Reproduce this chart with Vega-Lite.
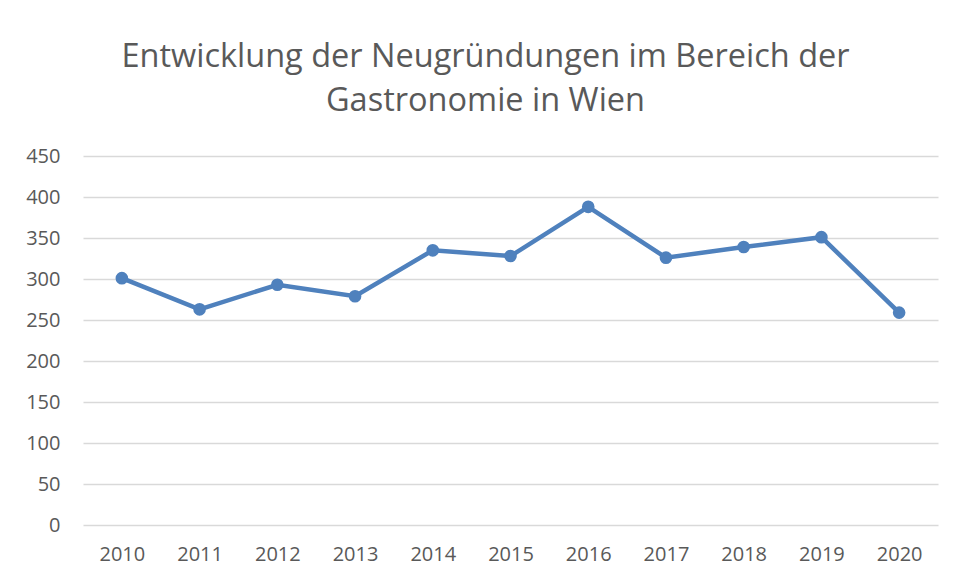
{
  "$schema": "https://vega.github.io/schema/vega-lite/v6.json",
  "width": 855,
  "height": 369,
  "autosize": {"type": "none"},
  "padding": {"left": 83, "top": 156, "right": 16, "bottom": 54},
  "background": "white",
  "title": {
    "text": ["Entwicklung der Neugründungen im Bereich der", "Gastronomie in Wien"],
    "font": "Open Sans",
    "fontSize": 32.5,
    "fontWeight": "normal",
    "color": "#595959",
    "lineHeight": 44,
    "anchor": "middle",
    "dx": -25,
    "offset": 29
  },
  "data": {
    "values": [
      {"year": "2010", "value": 301},
      {"year": "2011", "value": 263},
      {"year": "2012", "value": 293},
      {"year": "2013", "value": 279},
      {"year": "2014", "value": 335},
      {"year": "2015", "value": 328},
      {"year": "2016", "value": 388},
      {"year": "2017", "value": 326},
      {"year": "2018", "value": 339},
      {"year": "2019", "value": 351},
      {"year": "2020", "value": 259}
    ]
  },
  "config": {
    "view": {"stroke": null},
    "axis": {
      "labelFont": "Open Sans",
      "labelFontSize": 20,
      "labelColor": "#595959",
      "domain": false,
      "ticks": false,
      "title": null
    }
  },
  "encoding": {
    "x": {
      "field": "year",
      "type": "ordinal",
      "scale": {"paddingInner": 0, "paddingOuter": 0.5},
      "axis": {"labelAngle": 0, "labelPadding": 19, "grid": false}
    },
    "y": {
      "field": "value",
      "type": "quantitative",
      "scale": {"domain": [0, 450], "nice": false},
      "axis": {
        "values": [0, 50, 100, 150, 200, 250, 300, 350, 400, 450],
        "labelPadding": 23,
        "grid": true,
        "gridColor": "#d9d9d9",
        "gridWidth": 1.5
      }
    }
  },
  "layer": [
    {"mark": {"type": "line", "color": "#4f81bd", "strokeWidth": 4.5}},
    {"mark": {"type": "point", "filled": true, "color": "#4f81bd", "opacity": 1, "size": 160}}
  ]
}
